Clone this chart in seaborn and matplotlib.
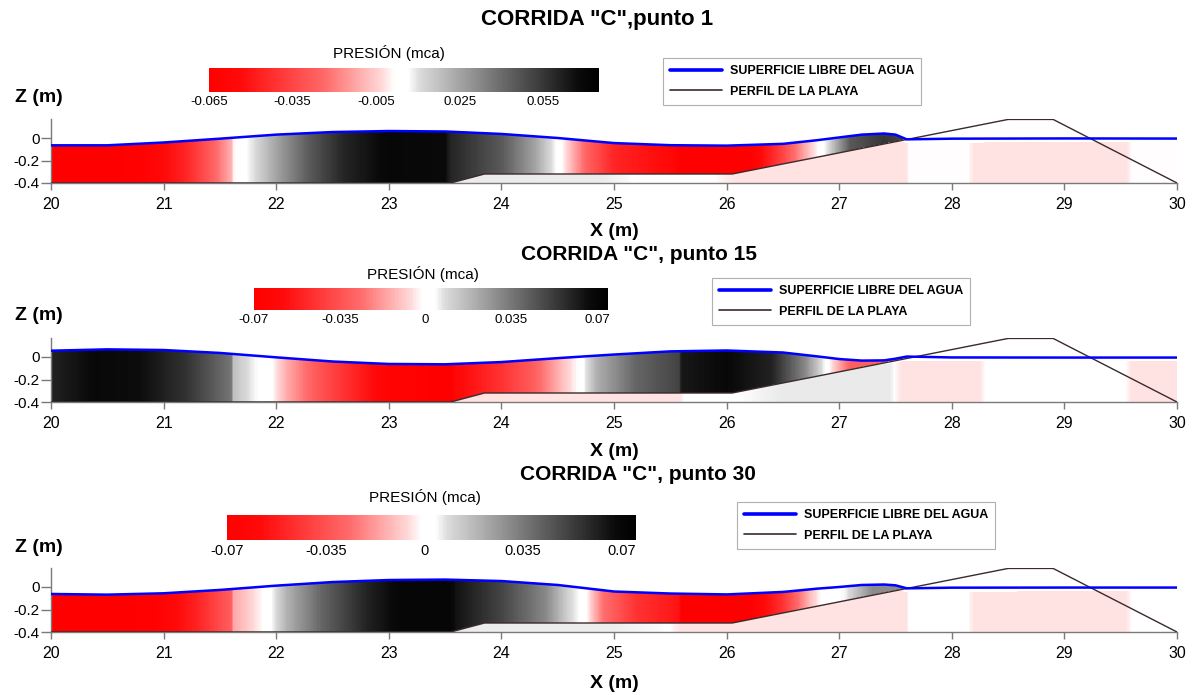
import numpy as np
import matplotlib
matplotlib.use("Agg")
import matplotlib.pyplot as plt
import seaborn as sns
from matplotlib.colors import LinearSegmentedColormap, Normalize
from matplotlib.cm import ScalarMappable

# ---------------- DATA ----------------
# beach profile (shared by the three runs)
profile_x = [20.0, 23.55, 23.85, 26.05, 28.5, 28.9, 30.0]
profile_z = [-0.40, -0.40, -0.32, -0.32, 0.165, 0.165, -0.40]
shoreline_x = 27.6

# free surface elevation
surf_x = [20.0, 20.5, 21.0, 21.5, 22.0, 22.5, 23.0, 23.5, 24.0, 24.5, 25.0, 25.5,
          26.0, 26.5, 26.8, 27.0, 27.2, 27.4, 27.5, 27.6, 28.0, 29.0, 30.0]
surf_p1 = [-0.065, -0.065, -0.040, -0.006, 0.030, 0.053, 0.062, 0.058, 0.036, 0.000, -0.045, -0.064,
           -0.068, -0.052, -0.020, 0.005, 0.030, 0.040, 0.030, -0.012, -0.006, -0.004, -0.005]
surf_p15 = [0.056, 0.068, 0.062, 0.036, -0.003, -0.040, -0.062, -0.065, -0.045, -0.010, 0.022, 0.050,
            0.058, 0.040, 0.006, -0.018, -0.032, -0.030, -0.015, 0.004, -0.004, -0.005, -0.005]
surf_p30 = [-0.062, -0.068, -0.056, -0.026, 0.012, 0.044, 0.062, 0.066, 0.053, 0.018, -0.040, -0.058,
            -0.066, -0.044, -0.015, 0.000, 0.018, 0.022, 0.015, -0.012, -0.006, -0.005, -0.005]

# pressure (mca) inside the water column
pres_x_p1 = [20.0, 20.8, 21.2, 21.45, 21.6, 21.62, 21.8, 22.0, 22.3, 22.6, 23.0, 23.5, 23.55, 24.0,
             24.3, 24.55, 24.75, 25.0, 25.5, 25.6, 26.2, 26.5, 26.75, 26.9, 27.1, 27.4, 27.6]
pres_p1 = [-0.065, -0.063, -0.045, -0.025, -0.010, 0.000, 0.010, 0.025, 0.045, 0.060, 0.070, 0.068, 0.060, 0.045,
           0.025, 0.000, -0.025, -0.045, -0.055, -0.065, -0.065, -0.035, -0.005, 0.010, 0.045, 0.055, 0.050]
pres_x_p15 = [20.0, 20.4, 20.8, 21.2, 21.6, 21.62, 21.8, 21.95, 22.1, 22.4, 22.8, 23.0, 23.55, 23.6,
              24.0, 24.3, 24.55, 24.7, 24.85, 25.2, 25.58, 25.6, 26.0, 26.4, 26.7, 26.9, 27.1, 27.6]
pres_p15 = [0.060, 0.068, 0.066, 0.055, 0.035, 0.015, 0.005, 0.000, -0.015, -0.035, -0.055, -0.065, -0.070, -0.060,
            -0.045, -0.030, -0.010, 0.000, 0.020, 0.040, 0.050, 0.063, 0.068, 0.060, 0.030, 0.000, -0.030, -0.030]
pres_x_p30 = [20.0, 20.9, 21.3, 21.6, 21.62, 21.85, 21.95, 22.1, 22.4, 22.8, 23.1, 23.55, 23.6, 24.0,
              24.4, 24.6, 24.75, 24.9, 25.2, 25.58, 25.6, 26.2, 26.5, 26.75, 26.85, 27.05, 27.3, 27.6]
pres_p30 = [-0.070, -0.068, -0.050, -0.030, -0.015, -0.003, 0.003, 0.020, 0.040, 0.060, 0.070, 0.070, 0.065, 0.050,
            0.030, 0.010, 0.000, -0.025, -0.045, -0.055, -0.070, -0.070, -0.045, -0.010, 0.000, 0.005, 0.030, 0.030]

# pressure field shown faded below the beach profile / beyond the shoreline
ground_x_p1 = [20.0, 23.5, 24.9, 25.2, 25.9, 26.1, 27.6, 27.62, 28.15, 28.2, 29.55, 29.6, 30.0]
ground_p1 = [0.050, 0.050, 0.045, 0.000, 0.000, -0.060, -0.060, 0.000, 0.000, -0.060, -0.060, 0.000, 0.000]
ground_x_p15 = [20.0, 23.5, 25.58, 25.62, 26.1, 26.5, 27.45, 27.55, 28.25, 28.3, 29.55, 29.6, 30.0]
ground_p15 = [0.000, -0.060, -0.060, 0.000, 0.000, 0.050, 0.050, -0.060, -0.060, 0.000, 0.000, -0.060, -0.060]
ground_x_p30 = [20.0, 23.5, 25.0, 25.5, 25.6, 27.6, 27.62, 28.15, 28.2, 29.55, 29.6, 30.0]
ground_p30 = [0.045, 0.045, 0.040, 0.000, -0.060, -0.060, 0.000, 0.000, -0.060, -0.060, 0.000, 0.000]

titles = ['CORRIDA "C",punto 1', 'CORRIDA "C", punto 15', 'CORRIDA "C", punto 30']
cbar_ticks_p1 = [-0.065, -0.035, -0.005, 0.025, 0.055]
cbar_labels_p1 = ["-0.065", "-0.035", "-0.005", "0.025", "0.055"]
cbar_ticks_p = [-0.07, -0.035, 0.0, 0.035, 0.07]
cbar_labels_p = ["-0.07", "-0.035", "0", "0.035", "0.07"]
x_ticks = list(range(20, 31))
z_ticks = [0.0, -0.2, -0.4]
z_ticklabels = ["0", "-0.2", "-0.4"]
legend_labels = ["SUPERFICIE LIBRE DEL AGUA", "PERFIL DE LA PLAYA"]

# ---------------- STYLE ----------------
sns.set_theme(style="ticks")
plt.rcParams["font.family"] = ["Liberation Sans", "DejaVu Sans"]
plt.rcParams["text.color"] = "black"
plt.rcParams["xtick.labelcolor"] = "black"
plt.rcParams["ytick.labelcolor"] = "black"

cmap = LinearSegmentedColormap.from_list("presion", [
    (0.00, (1.00, 0.00, 0.00)),
    (0.08, (1.00, 0.04, 0.04)),
    (0.30, (1.00, 0.42, 0.42)),
    (0.44, (1.00, 0.84, 0.84)),
    (0.475, (1.00, 1.00, 1.00)),
    (0.51, (1.00, 1.00, 1.00)),
    (0.54, (0.86, 0.86, 0.86)),
    (0.75, (0.42, 0.42, 0.42)),
    (0.95, (0.04, 0.04, 0.04)),
    (1.00, (0.00, 0.00, 0.00)),
])

W, H = 1194, 695
fig = plt.figure(figsize=(W / 100, H / 100), dpi=100)
fig.patch.set_facecolor("white")

def fx(px):
    return px / W

def fy(py):
    return 1 - py / H

ZMIN, ZMAX = -0.4, 0.17
panels = [
    dict(surf=surf_p1, px=pres_x_p1, pv=pres_p1, gx=ground_x_p1, gv=ground_p1,
         vmin=-0.065, vmax=0.075, ticks=cbar_ticks_p1, tlabels=cbar_labels_p1,
         ax_bottom=183, cbar=(209, 68, 599, 92), cbar_lab=(389, 53),
         title=(597, 20), tsize=16, xlab=232, zlab=97, leg=(663, 58), cfs=9.5),
    dict(surf=surf_p15, px=pres_x_p15, pv=pres_p15, gx=ground_x_p15, gv=ground_p15,
         vmin=-0.07, vmax=0.0745, ticks=cbar_ticks_p, tlabels=cbar_labels_p,
         ax_bottom=402, cbar=(254, 288, 608, 310), cbar_lab=(423, 274),
         title=(639, 255), tsize=15, xlab=451, zlab=315, leg=(712, 278), cfs=9.5),
    dict(surf=surf_p30, px=pres_x_p30, pv=pres_p30, gx=ground_x_p30, gv=ground_p30,
         vmin=-0.07, vmax=0.075, ticks=cbar_ticks_p, tlabels=cbar_labels_p,
         ax_bottom=632, cbar=(227, 515, 636, 540), cbar_lab=(425, 497),
         title=(638, 474), tsize=15, xlab=683, zlab=548, leg=(737, 502), cfs=10.5),
]

ax_left_px, ax_right_px = 51, 1177
ax_h_px = (ZMAX - ZMIN) * 112.5

nx, nz = 2000, 300
gxs = np.linspace(20, 30, nx)
gzs = np.linspace(ZMIN, ZMAX, nz)
X, Z = np.meshgrid(gxs, gzs)
prof_g = np.interp(gxs, profile_x, profile_z)[None, :]

for i, pan in enumerate(panels):
    ax = fig.add_axes([fx(ax_left_px), fy(pan["ax_bottom"]),
                       fx(ax_right_px - ax_left_px), ax_h_px / H])
    norm = Normalize(pan["vmin"], pan["vmax"])

    surf_g = np.interp(gxs, surf_x, pan["surf"])[None, :]
    water = (Z > prof_g) & (Z < surf_g) & (X <= shoreline_x)
    ground = (~water) & (Z < surf_g - 0.04) & (Z < np.where(X <= shoreline_x, prof_g, 1.0))
    pw = np.interp(gxs, pan["px"], pan["pv"])[None, :] * np.ones_like(Z)
    pg = np.interp(gxs, pan["gx"], pan["gv"])[None, :] * np.ones_like(Z)
    rgba = np.zeros(Z.shape + (4,))
    cw = cmap(norm(pw))
    cg = cmap(norm(pg))
    fade = 0.11
    cg[..., :3] = 1 - fade * (1 - cg[..., :3])
    rgba[water] = cw[water]
    rgba[ground] = cg[ground]
    rgba[..., 3] = np.where(water | ground, 1.0, 0.0)
    ax.imshow(rgba, extent=[20, 30, ZMIN, ZMAX], origin="lower", aspect="auto",
              interpolation="nearest", zorder=1)

    sns.lineplot(x=surf_x, y=pan["surf"], color="#0000ff", lw=1.8, ax=ax,
                 label=legend_labels[0], sort=False, estimator=None, zorder=4)
    sns.lineplot(x=profile_x, y=profile_z, color="#3a2a2c", lw=1.0, ax=ax,
                 label=legend_labels[1], sort=False, estimator=None, zorder=3)
    handles, labels = ax.get_legend_handles_labels()
    if ax.get_legend() is not None:
        ax.get_legend().remove()

    ax.set_xlim(20, 30)
    ax.set_ylim(ZMIN, ZMAX)
    ax.set_xticks(x_ticks)
    ax.set_xticklabels([str(t) for t in x_ticks], fontsize=11.5, color="black")
    ax.set_yticks(z_ticks)
    ax.set_yticklabels(z_ticklabels, fontsize=11, color="black")
    ax.set_xlabel("")
    ax.set_ylabel("")
    ax.set_facecolor("none")
    sns.despine(ax=ax)
    for s in ("left", "bottom"):
        ax.spines[s].set_color("#7a7a7a")
        ax.spines[s].set_linewidth(1.0)
    ax.tick_params(axis="both", colors="#7a7a7a", width=1, labelcolor="black")
    ax.tick_params(axis="x", length=5, pad=5)
    ax.tick_params(axis="y", length=7, pad=1)

    # legend
    leg = fig.legend(handles, labels, loc="upper left",
                     bbox_to_anchor=(fx(pan["leg"][0]), fy(pan["leg"][1])),
                     bbox_transform=fig.transFigure, borderaxespad=0,
                     prop={"weight": "bold", "size": 9}, handlelength=4.2,
                     handletextpad=0.6, labelspacing=0.7, borderpad=0.55,
                     fancybox=False, framealpha=1, edgecolor="#b0b0b0",
                     labelcolor="black")
    leg.get_frame().set_linewidth(0.8)
    leg.get_lines()[0].set_linewidth(2.6)
    leg.get_lines()[1].set_linewidth(1.2)

    # colour bar
    x0, y0, x1, y1 = pan["cbar"]
    cax = fig.add_axes([fx(x0), fy(y1), fx(x1 - x0), (y1 - y0) / H])
    cb = fig.colorbar(ScalarMappable(norm=norm, cmap=cmap), cax=cax, orientation="horizontal")
    cb.outline.set_visible(False)
    cb.set_ticks(pan["ticks"])
    cb.set_ticklabels(pan["tlabels"])
    cax.tick_params(length=0, labelsize=pan["cfs"], pad=3, labelcolor="black")
    fig.text(fx(pan["cbar_lab"][0]), fy(pan["cbar_lab"][1]), "PRESIÓN (mca)",
             ha="center", va="center", fontsize=11, color="black")

    # titles and axis labels
    fig.text(fx(pan["title"][0]), fy(pan["title"][1]), titles[i],
             ha="center", va="center", fontsize=pan["tsize"], fontweight="bold", color="black")
    fig.text(fx(614), fy(pan["xlab"]), "X (m)", ha="center", va="center",
             fontsize=14, fontweight="bold", color="black")
    fig.text(fx(39), fy(pan["zlab"]), "Z (m)", ha="center", va="center",
             fontsize=14, fontweight="bold", color="black")

fig.savefig("out.png", dpi=100, facecolor="white")
